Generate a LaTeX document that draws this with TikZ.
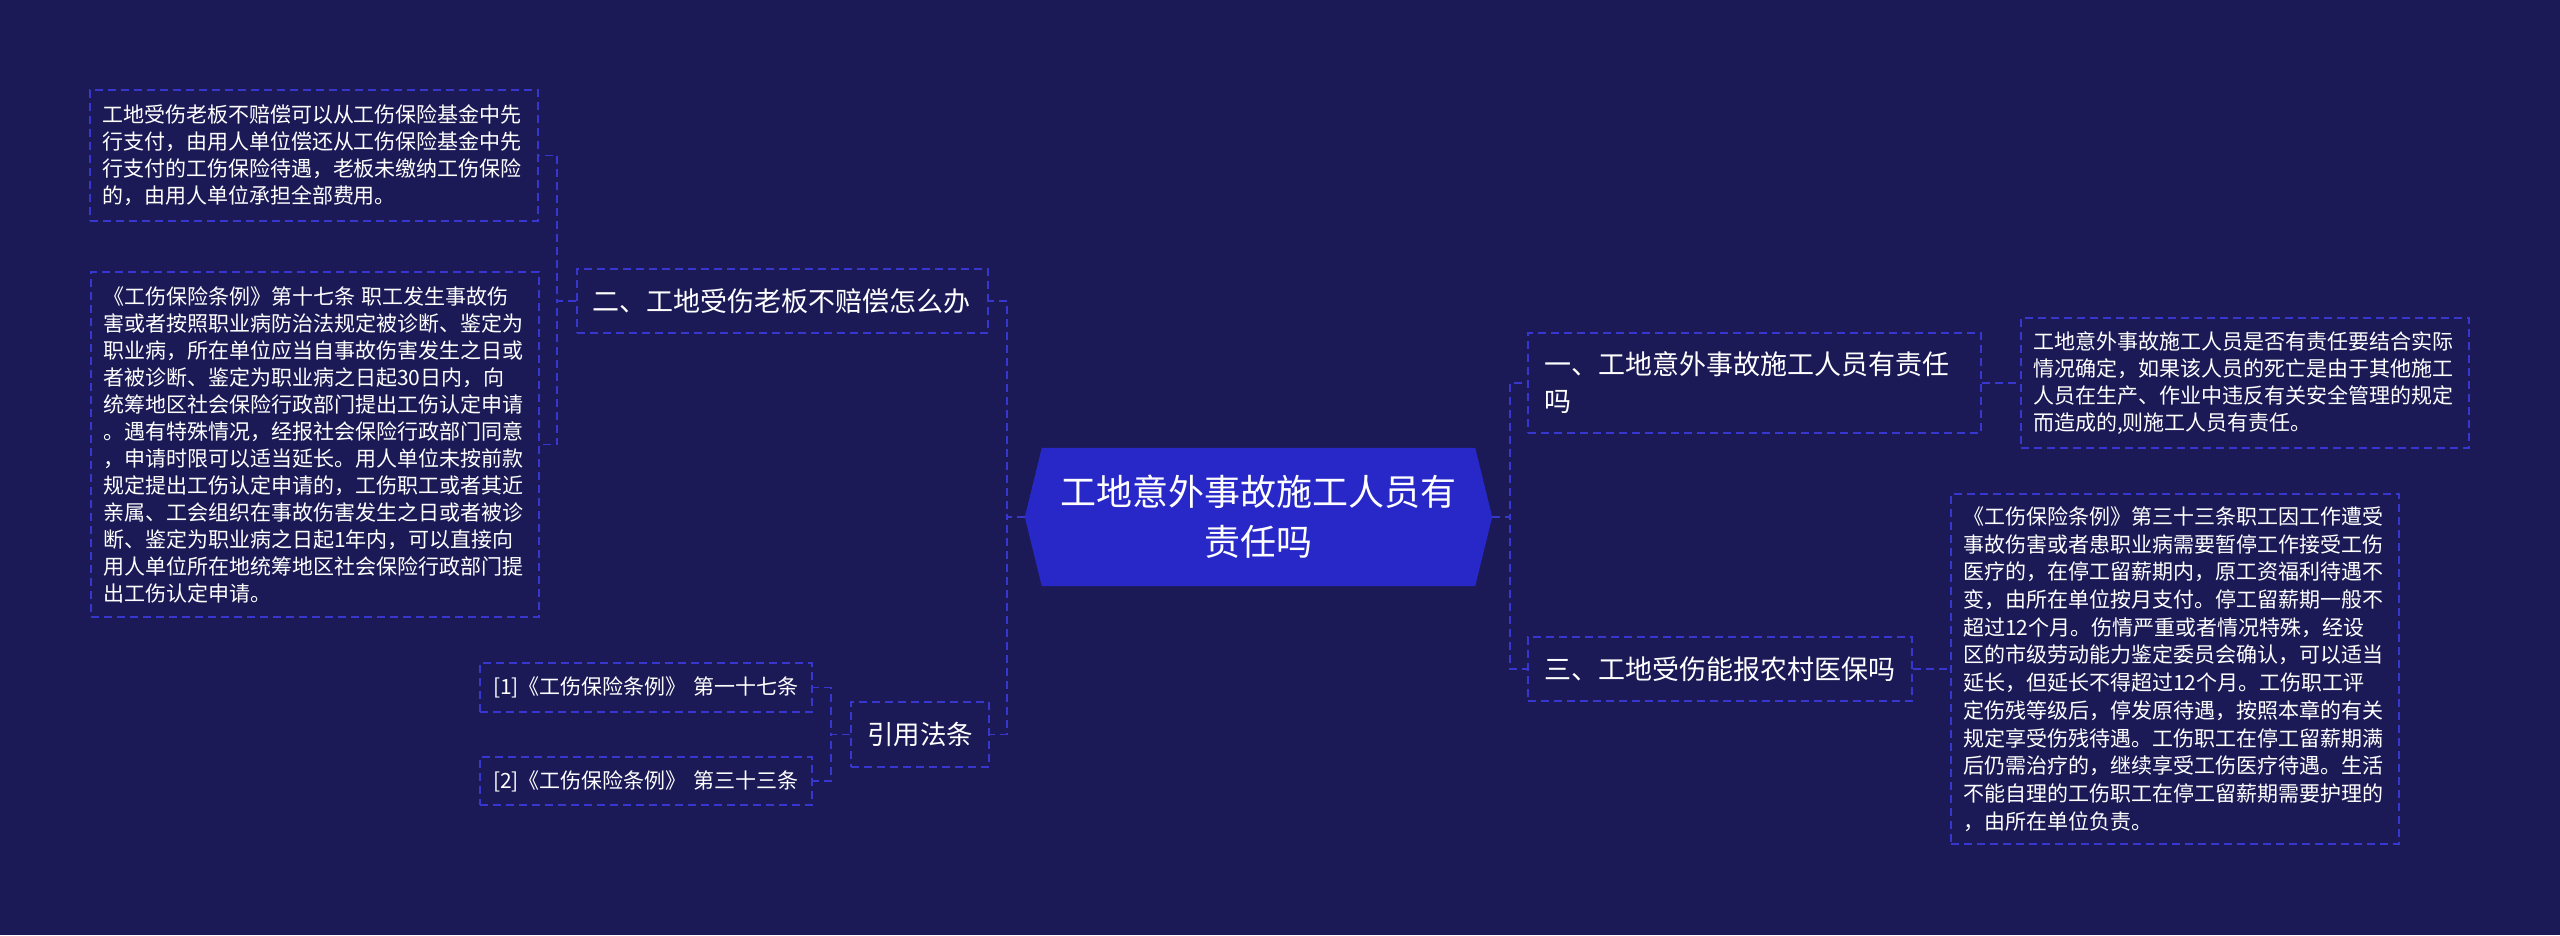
\documentclass[tikz,border=0pt]{standalone}
\usepackage{fontspec}
\setmainfont{Noto Sans CJK SC}
\usetikzlibrary{backgrounds}
\definecolor{bg}{RGB}{27,26,86}
\definecolor{rootc}{RGB}{40,40,200}
\definecolor{dashc}{RGB}{55,55,205}
\begin{document}
\begin{tikzpicture}[x=1pt,y=-1pt,
  box/.style={draw=dashc, line width=1.5pt, dash pattern=on 8pt off 5pt, text=white, inner sep=0pt, align=left, anchor=center},
  detail/.style={box, font=\fontsize{21}{27}\selectfont},
  branch/.style={box, font=\fontsize{27}{37}\selectfont},
  conn/.style={draw=dashc, line width=1.5pt, dash pattern=on 8pt off 5pt},
]
\useasboundingbox (0,0) rectangle (2560,935);
\begin{pgfonlayer}{background}
\fill[bg] (0,0) rectangle (2560,935);
\end{pgfonlayer}

% root
\node[font=\fontsize{36}{50}\selectfont, text=white, align=center, minimum width=467, minimum height=138, inner sep=0pt] (root) at (1258.5,517) {工地意外事故施工人员有\\责任吗};
\begin{pgfonlayer}{background}
\fill[rootc] (root.west) -- ([xshift=17pt]root.north west) -- ([xshift=-17pt]root.north east) -- (root.east) -- ([xshift=-17pt]root.south east) -- ([xshift=17pt]root.south west) -- cycle;
\end{pgfonlayer}

% left side
\node[detail, minimum width=448, minimum height=131, text width=424] (d2a) at (314,155.5) {工地受伤老板不赔偿可以从工伤保险基金中先\\行支付，由用人单位偿还从工伤保险基金中先\\行支付的工伤保险待遇，老板未缴纳工伤保险\\的，由用人单位承担全部费用。};
\node[detail, minimum width=448, minimum height=345, text width=424] (d2b) at (315,444.5) {《工伤保险条例》第十七条 职工发生事故伤\\害或者按照职业病防治法规定被诊断、鉴定为\\职业病，所在单位应当自事故伤害发生之日或\\者被诊断、鉴定为职业病之日起30日内，向\\统筹地区社会保险行政部门提出工伤认定申请\\。遇有特殊情况，经报社会保险行政部门同意\\，申请时限可以适当延长。用人单位未按前款\\规定提出工伤认定申请的，工伤职工或者其近\\亲属、工会组织在事故伤害发生之日或者被诊\\断、鉴定为职业病之日起1年内，可以直接向\\用人单位所在地统筹地区社会保险行政部门提\\出工伤认定申请。};
\node[branch, minimum width=411, minimum height=64, text width=381] (b2) at (782.5,301) {二、工地受伤老板不赔偿怎么办};
\node[box, font=\fontsize{26.5}{32}\selectfont, align=center, minimum width=138, minimum height=65] (b4) at (920,734.5) {引用法条};
\node[detail, minimum width=332, minimum height=49, text width=306] (r1) at (646,687.5) {[1]《工伤保险条例》 第一十七条};
\node[detail, minimum width=332, minimum height=48, text width=306] (r2) at (646,781) {[2]《工伤保险条例》 第三十三条};

% right side
\node[branch, minimum width=453, minimum height=100, text width=421] (b1) at (1754.5,383) {一、工地意外事故施工人员有责任\\吗};
\node[detail, minimum width=448, minimum height=130, text width=424] (d1) at (2245,383) {工地意外事故施工人员是否有责任要结合实际\\情况确定，如果该人员的死亡是由于其他施工\\人员在生产、作业中违反有关安全管理的规定\\而造成的,则施工人员有责任。};
\node[branch, minimum width=384, minimum height=64, text width=352] (b3) at (1720,669) {三、工地受伤能报农村医保吗};
\node[detail, font=\fontsize{21}{27.7}\selectfont, minimum width=448, minimum height=350, text width=424] (d3) at (2175,669) {《工伤保险条例》第三十三条职工因工作遭受\\事故伤害或者患职业病需要暂停工作接受工伤\\医疗的，在停工留薪期内，原工资福利待遇不\\变，由所在单位按月支付。停工留薪期一般不\\超过12个月。伤情严重或者情况特殊，经设\\区的市级劳动能力鉴定委员会确认，可以适当\\延长，但延长不得超过12个月。工伤职工评\\定伤残等级后，停发原待遇，按照本章的有关\\规定享受伤残待遇。工伤职工在停工留薪期满\\后仍需治疗的，继续享受工伤医疗待遇。生活\\不能自理的工伤职工在停工留薪期需要护理的\\，由所在单位负责。};

% connectors
\coordinate (c2) at (557,0);
\coordinate (cL) at (1007,0);
\coordinate (cR) at (1510,0);
\coordinate (c4) at (831,0);
\draw[conn] (b2.west) -- (c2 |- b2.west) |- (d2a.east);
\draw[conn] (b2.west) -- (c2 |- b2.west) |- (d2b.east);
\draw[conn] (root.west) -- (cL |- root.west) |- (b2.east);
\draw[conn] (root.west) -- (cL |- root.west) |- (b4.east);
\draw[conn] (root.east) -- (cR |- root.east) |- (b1.west);
\draw[conn] (root.east) -- (cR |- root.east) |- (b3.west);
\draw[conn] (b1.east) -- (d1.west);
\draw[conn] (b3.east) -- (d3.west);
\draw[conn] (b4.west) -- (c4 |- b4.west) |- (r1.east);
\draw[conn] (b4.west) -- (c4 |- b4.west) |- (r2.east);
\end{tikzpicture}
\end{document}
